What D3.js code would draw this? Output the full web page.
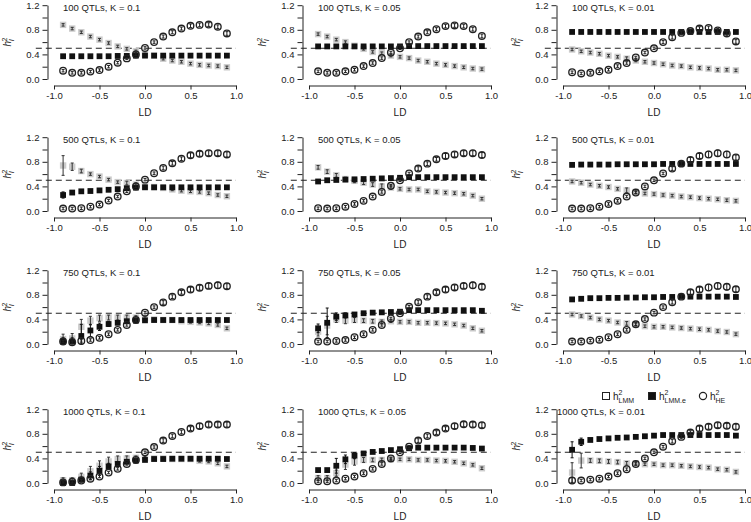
<!DOCTYPE html>
<html>
<head>
<meta charset="utf-8">
<title>h2 vs LD</title>
<script src="https://cdnjs.cloudflare.com/ajax/libs/d3/7.8.5/d3.min.js"></script>
<style>
  body { margin: 0; background: #fff; }
  svg { display: block; font-family: "Liberation Sans", Arial, sans-serif; }
  .axis path, .axis line { stroke: #222; stroke-width: 1; }
  .axis text { font-size: 9.5px; fill: #222; }
  .title { font-family: "Liberation Sans Narrow", "Arial Narrow", "Liberation Sans", sans-serif; font-size: 9.5px; fill: #222; }
</style>
</head>
<body>
<div id="chart"></div>
<script>
// LD values on the x axis
const ld = [-0.9,-0.8,-0.7,-0.6,-0.5,-0.4,-0.3,-0.2,-0.1,0.0,0.1,0.2,0.3,0.4,0.5,0.6,0.7,0.8,0.9];

const titles = [
  '100 QTLs, K = 0.1', '100 QTLs, K = 0.05', '100 QTLs, K = 0.01',
  '500 QTLs, K = 0.1', '500 QTLs, K = 0.05', '500 QTLs, K = 0.01',
  '750 QTLs, K = 0.1', '750 QTLs, K = 0.05', '750 QTLs, K = 0.01',
  '1000 QTLs, K = 0.1', '1000 QTLs, K = 0.05', '1000 QTLs, K = 0.01'
];

// 100 QTLs, K = 0.1
const lmm1  = [0.88,0.82,0.76,0.69,0.64,0.585,0.53,0.49,0.45,0.40,0.38,0.33,0.30,0.28,0.25,0.23,0.22,0.21,0.19];
const lmme1 = [0.37,0.37,0.37,0.37,0.37,0.37,0.375,0.375,0.38,0.38,0.38,0.38,0.38,0.38,0.38,0.38,0.38,0.38,0.38];
const he1   = [0.135,0.10,0.10,0.12,0.145,0.20,0.265,0.335,0.40,0.505,0.60,0.69,0.76,0.82,0.865,0.88,0.885,0.85,0.74];
// 100 QTLs, K = 0.05
const lmm2  = [0.73,0.69,0.64,0.60,0.54,0.49,0.44,0.42,0.38,0.36,0.34,0.30,0.28,0.25,0.23,0.21,0.19,0.17,0.16];
const lmme2 = [0.53,0.53,0.53,0.53,0.53,0.53,0.53,0.53,0.53,0.53,0.535,0.535,0.535,0.535,0.535,0.535,0.535,0.535,0.535];
const he2   = [0.125,0.10,0.10,0.125,0.15,0.21,0.26,0.34,0.43,0.50,0.60,0.69,0.76,0.81,0.86,0.87,0.86,0.81,0.70];
// 100 QTLs, K = 0.01
const lmm3  = [0.48,0.45,0.43,0.41,0.38,0.36,0.33,0.30,0.28,0.26,0.24,0.22,0.21,0.19,0.18,0.17,0.15,0.15,0.14];
const lmme3 = [0.765,0.765,0.765,0.765,0.765,0.765,0.765,0.765,0.765,0.765,0.765,0.765,0.765,0.765,0.765,0.765,0.765,0.765,0.765];
const he3   = [0.11,0.09,0.10,0.125,0.15,0.21,0.26,0.35,0.43,0.50,0.60,0.68,0.75,0.78,0.82,0.83,0.79,0.74,0.61];
// 500 QTLs, K = 0.1
const lmm4  = [0.74,0.72,0.65,0.60,0.56,0.51,0.47,0.455,0.43,0.40,0.39,0.375,0.35,0.33,0.32,0.31,0.29,0.26,0.24];
const lmme4 = [0.26,0.30,0.32,0.325,0.335,0.345,0.355,0.37,0.38,0.385,0.385,0.385,0.385,0.385,0.385,0.385,0.385,0.385,0.385];
const he4   = [0.04,0.04,0.045,0.07,0.105,0.17,0.235,0.32,0.40,0.51,0.615,0.70,0.775,0.85,0.905,0.93,0.94,0.94,0.92];
// 500 QTLs, K = 0.05
const lmm5  = [0.71,0.64,0.58,0.52,0.49,0.46,0.43,0.40,0.38,0.36,0.35,0.35,0.32,0.31,0.30,0.29,0.28,0.25,0.20];
const lmme5 = [0.48,0.50,0.505,0.51,0.515,0.52,0.525,0.53,0.535,0.54,0.55,0.55,0.55,0.55,0.55,0.55,0.55,0.55,0.55];
const he5   = [0.045,0.04,0.045,0.07,0.115,0.165,0.235,0.31,0.41,0.50,0.61,0.69,0.77,0.84,0.895,0.92,0.94,0.94,0.91];
// 500 QTLs, K = 0.01
const lmm6  = [0.48,0.46,0.43,0.41,0.39,0.36,0.335,0.31,0.285,0.275,0.26,0.25,0.235,0.225,0.21,0.20,0.19,0.175,0.165];
const lmme6 = [0.75,0.755,0.755,0.755,0.755,0.76,0.76,0.76,0.76,0.76,0.765,0.765,0.765,0.765,0.765,0.765,0.765,0.765,0.765];
const he6   = [0.04,0.04,0.045,0.07,0.115,0.165,0.235,0.30,0.40,0.50,0.61,0.69,0.77,0.83,0.895,0.92,0.94,0.92,0.87];
// 750 QTLs, K = 0.1
const lmm7  = [0.08,0.09,0.28,0.38,0.42,0.43,0.43,0.43,0.43,0.42,0.40,0.39,0.39,0.37,0.36,0.35,0.335,0.31,0.255];
const lmme7 = [0.04,0.04,0.13,0.22,0.28,0.325,0.345,0.37,0.38,0.385,0.39,0.39,0.39,0.39,0.39,0.39,0.39,0.39,0.39];
const he7   = [0.04,0.03,0.05,0.065,0.10,0.16,0.23,0.31,0.39,0.51,0.60,0.675,0.77,0.84,0.885,0.915,0.945,0.955,0.94];
// 750 QTLs, K = 0.05
const lmm8  = [0.20,0.30,0.40,0.38,0.39,0.38,0.37,0.36,0.37,0.36,0.36,0.345,0.345,0.34,0.335,0.32,0.30,0.255,0.215];
const lmme8 = [0.255,0.345,0.445,0.465,0.48,0.50,0.51,0.515,0.52,0.525,0.55,0.55,0.55,0.55,0.55,0.55,0.55,0.55,0.54];
const he8   = [0.04,0.04,0.05,0.065,0.11,0.16,0.23,0.31,0.415,0.50,0.605,0.68,0.77,0.84,0.885,0.92,0.945,0.955,0.93];
// 750 QTLs, K = 0.01
const lmm9  = [0.48,0.455,0.43,0.40,0.38,0.35,0.335,0.32,0.29,0.28,0.28,0.27,0.26,0.25,0.24,0.23,0.21,0.195,0.16];
const lmme9 = [0.725,0.735,0.745,0.745,0.75,0.75,0.755,0.755,0.76,0.76,0.765,0.765,0.77,0.77,0.77,0.77,0.77,0.77,0.765];
const he9   = [0.04,0.04,0.055,0.07,0.11,0.16,0.23,0.32,0.405,0.51,0.60,0.68,0.77,0.84,0.885,0.92,0.945,0.93,0.89];
// 1000 QTLs, K = 0.1
const lmm10  = [0.045,0.045,0.10,0.19,0.28,0.35,0.39,0.40,0.41,0.41,0.40,0.40,0.39,0.39,0.39,0.36,0.35,0.32,0.27];
const lmme10 = [0.0,0.0,0.055,0.12,0.20,0.27,0.31,0.345,0.365,0.375,0.39,0.39,0.395,0.395,0.395,0.395,0.395,0.395,0.39];
const he10   = [0.01,0.02,0.04,0.07,0.105,0.17,0.23,0.31,0.375,0.50,0.585,0.69,0.765,0.83,0.885,0.925,0.95,0.95,0.95];
// 1000 QTLs, K = 0.05
const lmm11  = [0.08,0.08,0.16,0.30,0.35,0.375,0.375,0.375,0.385,0.385,0.385,0.375,0.375,0.365,0.36,0.345,0.32,0.295,0.24];
const lmme11 = [0.21,0.21,0.28,0.385,0.445,0.48,0.505,0.52,0.535,0.55,0.565,0.575,0.575,0.575,0.575,0.575,0.575,0.57,0.56];
const he11   = [0.03,0.03,0.04,0.07,0.105,0.16,0.23,0.31,0.40,0.50,0.59,0.69,0.765,0.82,0.885,0.925,0.955,0.95,0.94];
// 1000 QTLs, K = 0.01
const lmm12  = [0.17,0.365,0.365,0.36,0.35,0.34,0.32,0.32,0.305,0.305,0.29,0.29,0.28,0.27,0.26,0.25,0.225,0.215,0.18];
const lmme12 = [0.54,0.67,0.70,0.715,0.725,0.735,0.74,0.75,0.76,0.77,0.78,0.78,0.78,0.78,0.78,0.78,0.78,0.78,0.77];
const he12   = [0.04,0.04,0.055,0.07,0.105,0.16,0.225,0.31,0.40,0.50,0.59,0.68,0.75,0.82,0.885,0.915,0.94,0.93,0.915];

// error bar half-widths
const errLmm = [
  [.02,.02,.02,.02,.02,.02,.02,.02,.02,.02,.02,.02,.02,.02,.02,.02,.02,.02,.02],
  [.02,.02,.02,.02,.02,.02,.02,.02,.02,.02,.02,.02,.02,.02,.02,.02,.02,.02,.02],
  [.02,.02,.02,.02,.02,.02,.03,.02,.02,.02,.02,.02,.02,.02,.02,.02,.02,.02,.02],
  [.16,.06,.03,.02,.02,.02,.02,.03,.03,.02,.02,.02,.02,.02,.02,.02,.02,.02,.02],
  [.03,.03,.03,.03,.03,.03,.03,.04,.03,.02,.02,.02,.02,.02,.02,.02,.02,.02,.02],
  [.02,.02,.02,.02,.02,.02,.04,.03,.02,.02,.02,.02,.02,.02,.02,.02,.02,.02,.02],
  [.08,.08,.12,.07,.05,.04,.04,.04,.03,.03,.02,.02,.02,.02,.02,.02,.02,.02,.02],
  [.07,.15,.05,.05,.04,.03,.03,.03,.02,.02,.02,.02,.02,.02,.02,.02,.02,.02,.02],
  [.02,.02,.02,.02,.02,.02,.03,.03,.02,.02,.02,.02,.02,.02,.02,.02,.02,.02,.02],
  [.04,.04,.06,.08,.08,.07,.05,.04,.03,.02,.02,.02,.02,.02,.02,.02,.02,.02,.02],
  [.04,.04,.05,.08,.06,.04,.03,.03,.02,.02,.02,.02,.02,.02,.02,.02,.02,.02,.02],
  [.16,.12,.03,.03,.03,.03,.03,.03,.02,.02,.02,.02,.02,.02,.02,.02,.02,.02,.02]
];
const errLmme = [
  [.01,.01,.01,.01,.01,.01,.01,.01,.01,.01,.01,.01,.01,.01,.01,.01,.01,.01,.01],
  [.01,.01,.01,.01,.01,.01,.01,.01,.01,.01,.01,.01,.01,.01,.01,.01,.01,.01,.01],
  [.01,.01,.01,.01,.01,.01,.01,.01,.01,.01,.01,.01,.01,.01,.01,.01,.01,.01,.01],
  [.05,.03,.01,.01,.01,.01,.01,.01,.01,.01,.01,.01,.01,.01,.01,.01,.01,.01,.01],
  [.01,.01,.01,.01,.01,.01,.01,.01,.01,.01,.01,.01,.01,.01,.01,.01,.01,.01,.01],
  [.01,.01,.01,.01,.01,.01,.01,.01,.01,.01,.01,.01,.01,.01,.01,.01,.01,.01,.01],
  [.06,.06,.19,.10,.06,.04,.03,.02,.02,.01,.01,.01,.01,.01,.01,.01,.01,.01,.01],
  [.07,.24,.06,.04,.02,.02,.01,.01,.01,.01,.01,.01,.01,.01,.01,.01,.01,.01,.01],
  [.01,.01,.01,.01,.01,.01,.01,.01,.01,.01,.01,.01,.01,.01,.01,.01,.01,.01,.01],
  [.02,.02,.04,.06,.07,.05,.04,.02,.02,.01,.01,.01,.01,.01,.01,.01,.01,.01,.01],
  [.02,.02,.12,.07,.05,.03,.02,.01,.01,.01,.01,.01,.01,.01,.01,.01,.01,.01,.01],
  [.13,.06,.02,.01,.01,.01,.01,.01,.01,.01,.01,.01,.01,.01,.01,.01,.01,.01,.01]
];
const errHe = [
  [.02,.02,.02,.02,.02,.02,.02,.02,.02,.02,.02,.025,.025,.025,.03,.03,.03,.03,.03],
  [.02,.02,.02,.02,.02,.02,.02,.02,.02,.02,.02,.025,.025,.025,.03,.03,.03,.03,.03],
  [.02,.02,.02,.02,.02,.02,.02,.02,.02,.02,.025,.03,.03,.03,.03,.03,.03,.03,.03],
  [.02,.02,.02,.02,.02,.02,.02,.02,.02,.02,.02,.03,.03,.03,.04,.04,.04,.04,.04],
  [.02,.02,.02,.02,.02,.02,.02,.02,.02,.02,.02,.03,.03,.03,.04,.04,.04,.04,.04],
  [.02,.02,.02,.02,.02,.02,.02,.02,.02,.02,.02,.03,.03,.04,.04,.05,.05,.05,.04],
  [.02,.02,.02,.02,.02,.02,.02,.02,.02,.02,.02,.03,.03,.03,.04,.04,.04,.05,.04],
  [.02,.02,.02,.02,.02,.02,.02,.02,.02,.02,.02,.03,.03,.03,.04,.04,.04,.05,.04],
  [.02,.02,.02,.02,.02,.02,.02,.02,.02,.02,.02,.03,.03,.04,.04,.05,.05,.05,.04],
  [.02,.02,.02,.02,.02,.02,.02,.02,.02,.02,.02,.03,.03,.03,.03,.04,.04,.04,.04],
  [.02,.02,.02,.02,.02,.02,.02,.02,.02,.02,.02,.03,.03,.03,.03,.04,.04,.04,.04],
  [.05,.02,.02,.02,.02,.02,.02,.02,.02,.02,.02,.03,.03,.03,.04,.04,.04,.04,.04]
];

const lmmAll  = [lmm1, lmm2, lmm3, lmm4, lmm5, lmm6, lmm7, lmm8, lmm9, lmm10, lmm11, lmm12];
const lmmeAll = [lmme1, lmme2, lmme3, lmme4, lmme5, lmme6, lmme7, lmme8, lmme9, lmme10, lmme11, lmme12];
const heAll   = [he1, he2, he3, he4, he5, he6, he7, he8, he9, he10, he11, he12];

const yTicks = [0, 0.2, 0.4, 0.6, 0.8, 1.0, 1.2];
const yLabelled = [0, 0.4, 0.8, 1.2];
const xTicks = [-1, -0.5, 0, 0.5, 1];

// layout
const width = 751, height = 522;
const colX = [54, 309, 563];      // pixel of LD = -1 in each column
const rowY0 = [79, 211, 344, 483]; // pixel of h2 = 0 in each row
const plotW = 182, plotH = 73.8;

const svg = d3.select('#chart')
  .append('svg')
  .attr('width', width)
  .attr('height', height);

svg.append('rect').attr('width', width).attr('height', height).attr('fill', '#fff');

function errorBars(g, x, y, vals, errs, color) {
  const d = ld.map((l, i) => ({l, v: vals[i], e: errs[i]}));
  g.selectAll(null).data(d).join('line')
    .attr('x1', p => x(p.l)).attr('x2', p => x(p.l))
    .attr('y1', p => y(Math.max(0, p.v - p.e))).attr('y2', p => y(p.v + p.e))
    .attr('stroke', color).attr('stroke-width', 1);
  g.selectAll(null).data(d).join('path')
    .attr('d', p => `M${x(p.l) - 1.5},${y(p.v + p.e)}h3M${x(p.l) - 1.5},${y(Math.max(0, p.v - p.e))}h3`)
    .attr('stroke', color).attr('stroke-width', 1);
}

for (let i = 0; i < 12; i++) {
  const col = i % 3, row = Math.floor(i / 3);
  const x = d3.scaleLinear().domain([-1, 1]).range([colX[col], colX[col] + plotW]);
  const y = d3.scaleLinear().domain([0, 1.2]).range([rowY0[row], rowY0[row] - plotH]);
  const g = svg.append('g');

  // y axis
  g.append('g')
    .attr('class', 'axis')
    .attr('transform', `translate(${x(-1) - 6.5},0)`)
    .call(d3.axisLeft(y).tickValues(yTicks).tickSize(5).tickSizeOuter(0)
      .tickFormat(d => yLabelled.some(v => Math.abs(v - d) < 1e-9) ? d.toFixed(1) : ''));

  // x axis
  g.append('g')
    .attr('class', 'axis')
    .attr('transform', `translate(0,${y(0) + 6.5})`)
    .call(d3.axisBottom(x).tickValues(xTicks).tickSize(4).tickSizeOuter(0).tickPadding(3)
      .tickFormat(d => d.toFixed(1)));

  g.append('text')
    .attr('x', x(0)).attr('y', y(0) + 36.5)
    .attr('text-anchor', 'middle')
    .attr('font-size', 10).attr('fill', '#222')
    .text('LD');

  // y label h_l^2
  const yl = g.append('text')
    .attr('transform', `translate(${x(-1) - 43},${y(0.6)}) rotate(-90)`)
    .attr('text-anchor', 'middle')
    .attr('font-size', 10).attr('fill', '#222');
  yl.append('tspan').attr('font-style', 'italic').text('h');
  yl.append('tspan').attr('font-style', 'italic').attr('font-size', 7).attr('dy', 2.5).text('l');
  yl.append('tspan').attr('font-size', 7).attr('dx', -2).attr('dy', -7).text('2');

  // title
  g.append('text')
    .attr('class', 'title')
    .attr('x', i === 11 ? x(-1) - 6 : x(-1) + 9)
    .attr('y', y(1.2) + 6)
    .text(titles[i]);

  // reference line at 0.5
  g.append('line')
    .attr('x1', x(-1.2)).attr('x2', x(1))
    .attr('y1', y(0.5)).attr('y2', y(0.5))
    .attr('stroke', '#222').attr('stroke-width', 1.2)
    .attr('stroke-dasharray', '6,4');

  // LMM (grey squares)
  g.selectAll(null).data(ld.map((l, k) => ({l, v: lmmAll[i][k]}))).join('rect')
    .attr('x', p => x(p.l) - 3.2).attr('y', p => y(p.v) - 3.2)
    .attr('width', 6.4).attr('height', 6.4)
    .attr('fill', '#cccccc');
  errorBars(g, x, y, lmmAll[i], errLmm[i], '#333');

  // LMM.e (black squares)
  errorBars(g, x, y, lmmeAll[i], errLmme[i], '#111');
  g.selectAll(null).data(ld.map((l, k) => ({l, v: lmmeAll[i][k]}))).join('rect')
    .attr('x', p => x(p.l) - 2.9).attr('y', p => y(p.v) - 2.9)
    .attr('width', 5.8).attr('height', 5.8)
    .attr('fill', '#111');

  // HE (open circles)
  g.selectAll(null).data(ld.map((l, k) => ({l, v: heAll[i][k]}))).join('circle')
    .attr('cx', p => x(p.l)).attr('cy', p => y(p.v))
    .attr('r', 3.3)
    .attr('fill', 'none').attr('stroke', '#222').attr('stroke-width', 1.35);
  errorBars(g, x, y, heAll[i], errHe[i], '#222');
}

// legend in the last panel
const legend = svg.append('g').attr('font-size', 10).attr('fill', '#222');
const legItems = [
  {x: 606, sub: 'LMM', kind: 'open'},
  {x: 652, sub: 'LMM.e', kind: 'filled'},
  {x: 703, sub: 'HE', kind: 'circle'}
];
const legY = 396;
legItems.forEach(it => {
  if (it.kind === 'circle') {
    legend.append('circle').attr('cx', it.x).attr('cy', legY).attr('r', 3.6)
      .attr('fill', 'none').attr('stroke', '#222').attr('stroke-width', 1.2);
  } else {
    legend.append('rect').attr('x', it.x - 3.5).attr('y', legY - 3.5).attr('width', 7).attr('height', 7)
      .attr('fill', it.kind === 'open' ? '#fff' : '#111').attr('stroke', '#222').attr('stroke-width', 1);
  }
  const t = legend.append('text').attr('x', it.x + 7).attr('y', legY + 4);
  t.append('tspan').text('h');
  t.append('tspan').attr('font-size', 7).attr('dy', -5).text('2');
  t.append('tspan').attr('font-size', 7).attr('dx', -3.9).attr('dy', 8).text(it.sub);
});
</script>
</body>
</html>
